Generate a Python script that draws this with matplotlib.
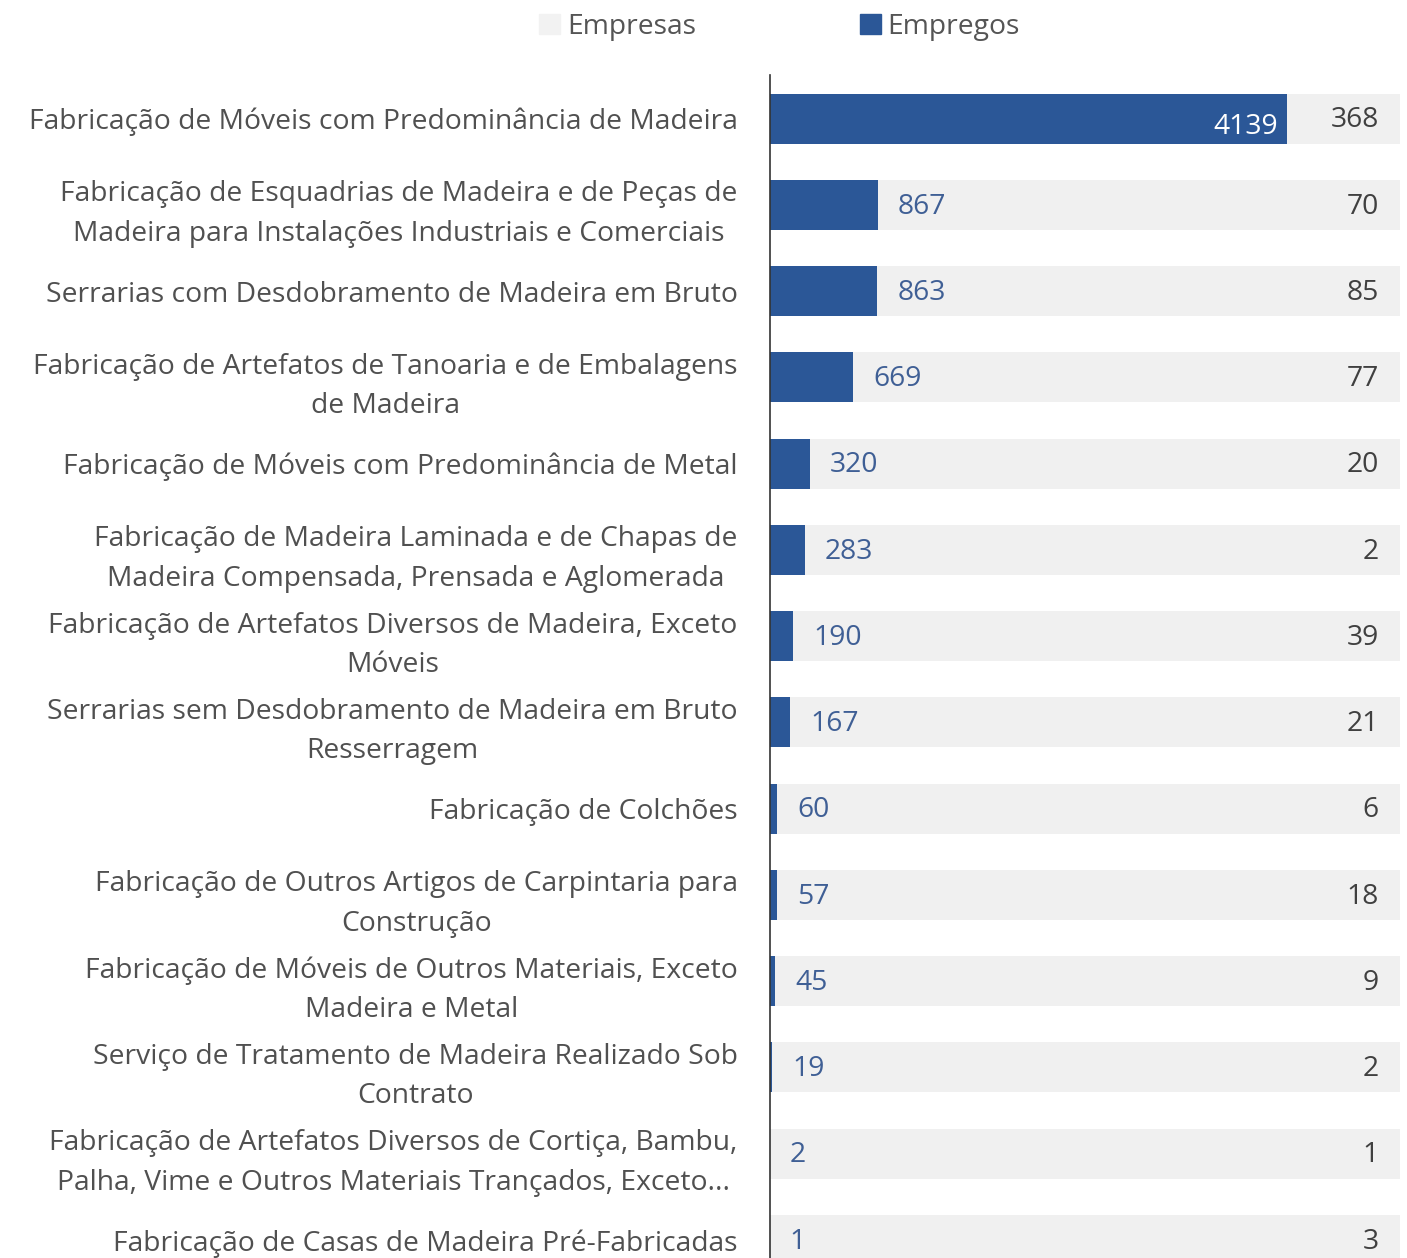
import numpy as np
import matplotlib
matplotlib.use("Agg")
from matplotlib import pyplot as plt
from matplotlib.patches import Patch

plt.rcParams['font.family'] = ['Open Sans', 'DejaVu Sans']

categorias = [
    "Fabricação de Móveis com Predominância de Madeira",
    "Fabricação de Esquadrias de Madeira e de Peças de\nMadeira para Instalações Industriais e Comerciais",
    "Serrarias com Desdobramento de Madeira em Bruto",
    "Fabricação de Artefatos de Tanoaria e de Embalagens\nde Madeira",
    "Fabricação de Móveis com Predominância de Metal",
    "Fabricação de Madeira Laminada e de Chapas de\nMadeira Compensada, Prensada e Aglomerada",
    "Fabricação de Artefatos Diversos de Madeira, Exceto\nMóveis",
    "Serrarias sem Desdobramento de Madeira em Bruto\nResserragem",
    "Fabricação de Colchões",
    "Fabricação de Outros Artigos de Carpintaria para\nConstrução",
    "Fabricação de Móveis de Outros Materiais, Exceto\nMadeira e Metal",
    "Serviço de Tratamento de Madeira Realizado Sob\nContrato",
    "Fabricação de Artefatos Diversos de Cortiça, Bambu,\nPalha, Vime e Outros Materiais Trançados, Exceto...",
    "Fabricação de Casas de Madeira Pré-Fabricadas",
]
empregos = [4139, 867, 863, 669, 320, 283, 190, 167, 60, 57, 45, 19, 2, 1]
empresas = [368, 70, 85, 77, 20, 2, 39, 21, 6, 18, 9, 2, 1, 3]

azul = "#2b5797"
cinza = "#f0f0f0"
xmax = 5044
fs = 20.3

fig = plt.figure(figsize=(14.07, 12.58), dpi=100)
ax = fig.add_axes([0.547, 0.0, 0.448, 0.940])
y = np.arange(len(categorias))

ax.barh(y, [xmax] * len(y), height=0.58, color=cinza, zorder=1)
ax.barh(y, empregos, height=0.58, color=azul, zorder=2)

for i, (v, e) in enumerate(zip(empregos, empresas)):
    if v > 3000:
        ax.text(v - 70, i + 0.1, str(v), ha="right", va="center", color="white", fontsize=fs, zorder=3)
    else:
        ax.text(v + 160, i + 0.02, str(v), ha="left", va="center", color="#3f5f95", fontsize=fs, zorder=3)
    ax.text(xmax - 170, i + 0.02, str(e), ha="right", va="center", color="#404040", fontsize=fs, zorder=3)

ax.set_xlim(0, xmax)
ax.set_ylim(13.21, -0.5)
ax.set_yticks(y)
ax.set_yticklabels(categorias, fontsize=fs, color="#505050", ma="center", linespacing=1.55)
ax.tick_params(axis="y", length=0, pad=23)
ax.set_xticks([])
for s in ["top", "right", "bottom"]:
    ax.spines[s].set_visible(False)
ax.spines["left"].set_color("#333333")
ax.spines["left"].set_linewidth(1.2)

handles = [Patch(color="#f2f2f2", label="Empresas"), Patch(color=azul, label="Empregos")]
fig.legend(handles=handles, loc="upper center", bbox_to_anchor=(0.554, 1.01), ncol=2,
           frameon=False, fontsize=fs, handlelength=0.75, handleheight=0.75,
           handletextpad=0.25, columnspacing=5.8, labelcolor="#555555")

plt.savefig("out.png")
plt.close()
